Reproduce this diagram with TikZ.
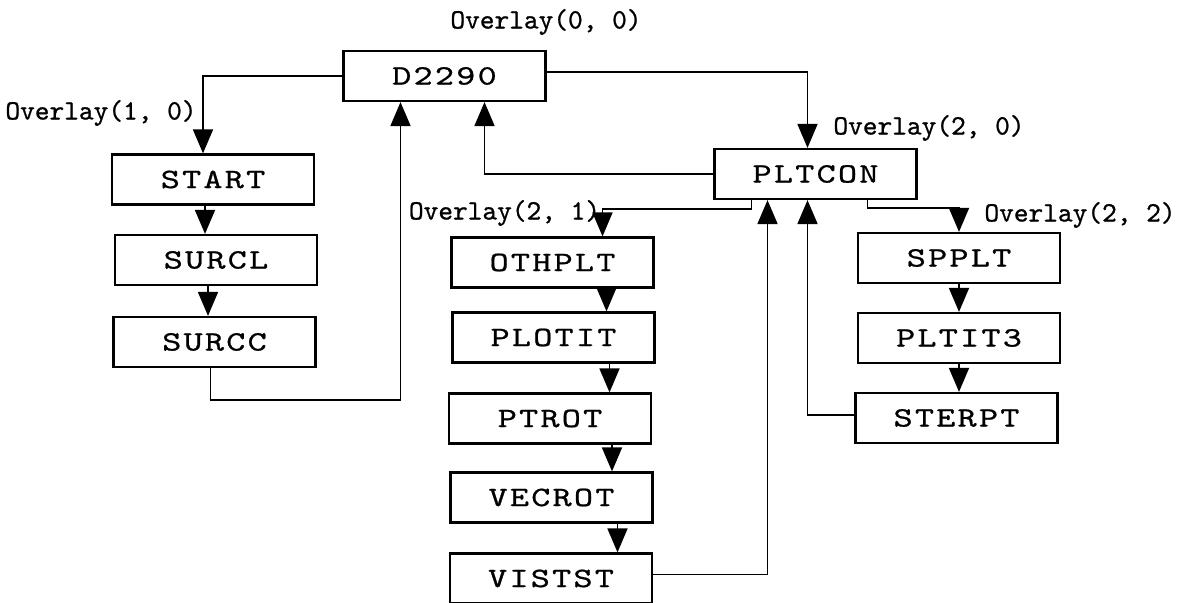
\documentclass[tikz,border=0pt]{standalone}
\usepackage{fontspec}
\usepackage{tikz}
\usetikzlibrary{arrows.meta}

\newfontfamily\modfont{lmmono10-regular}[Extension=.otf, FakeStretch=1.3, LetterSpace=8, FakeBold=0.8]
\newfontfamily\ovlfont{lmmono10-regular}[Extension=.otf, FakeBold=0.8]

\tikzset{
  module/.style={draw, line width=1.1pt, minimum width=101pt, minimum height=25pt,
    inner sep=0pt, font=\modfont\fontsize{14pt}{16pt}\selectfont},
  ovl/.style={inner sep=0pt, font=\ovlfont\fontsize{14pt}{16pt}\selectfont},
  flow/.style={line width=0.9pt, -{Triangle[length=12pt,width=10pt]}},
}

\begin{document}
\begin{tikzpicture}[x=5pt, y=5pt]
    \useasboundingbox (0,0) rectangle (118.3,60.3);

    % Root overlay
    \node[module] (d2290) at (44.45,52.7) {D2290};
    \node[ovl] (ovl00) at (54.6,58.1) {Overlay(0, 0)};

    % Overlay (1,0)
    \node[module] (start) at (21.3,42.35) {START};
    \node[module] (surcl) at (21.6,34.3) {SURCL};
    \node[module] (surcc) at (21.45,26.1) {SURCC};
    \node[ovl] (ovl10) at (10.1,49.0) {Overlay(1, 0)};

    % Overlay (2,0) and its two sub-overlays
    \node[module] (pltcon) at (81.55,42.9) {PLTCON};
    \node[ovl] (ovl20) at (92.9,47.5) {Overlay(2, 0)};

    \node[module] (othplt) at (55.25,34.05) {OTHPLT};
    \node[module] (plotit) at (55.35,26.55) {PLOTIT};
    \node[module] (ptrot)  at (55.0,18.45) {PTROT};
    \node[module] (vecrot) at (55.15,10.55) {VECROT};
    \node[module] (vistst) at (55.1,2.45) {VISTST};
    \node[ovl] (ovl21) at (50.45,39.0) {Overlay(2, 1)};

    \node[module] (spplt)  at (95.9,34.5) {SPPLT};
    \node[module] (pltit3) at (95.9,26.5) {PLTIT3};
    \node[module] (sterpt) at (95.65,18.5) {STERPT};
    \node[ovl] (ovl22) at (108.0,38.8) {Overlay(2, 2)};

    % Calls down from the root
    \draw[flow] (d2290.west) -| ([xshift=-5pt]start.north);
    \draw[flow] ([yshift=2pt]d2290.east) -| ([xshift=-4pt]pltcon.north);

    % Returns to the root
    \draw[flow] ([xshift=-2pt]surcc.south) -- ++(0,-3.2) -| ([xshift=-22pt]d2290.south);
    \draw[flow] (pltcon.west) -| ([xshift=20pt]d2290.south);

    % PLTCON branches
    \draw[flow] ([xshift=-32pt]pltcon.south) -- ++(0,-0.9) -| ([xshift=25pt]othplt.north);
    \draw[flow] ([xshift=26pt]pltcon.south) -- ++(0,-0.8) -| (spplt.north);
    \draw[flow] ([yshift=2pt]vistst.east) -| ([xshift=-24pt]pltcon.south);
    \draw[flow] ([yshift=1.5pt]sterpt.west) -| ([xshift=-4pt]pltcon.south);

    % Chains inside each overlay
    \foreach \a/\b in {start/surcl, surcl/surcc}
        \draw[flow] ([xshift=-4pt]\a.south) -- ([xshift=-4pt]\a.south |- \b.north);
    \foreach \a/\b/\s in {othplt/plotit/27pt, plotit/ptrot/28pt, ptrot/vecrot/31pt, vecrot/vistst/33pt}
        \draw[flow] ([xshift=\s]\a.south) -- ([xshift=\s]\a.south |- \b.north);
    \foreach \a/\b in {spplt/pltit3, pltit3/sterpt}
        \draw[flow] (\a.south) -- (\a.south |- \b.north);
\end{tikzpicture}
\end{document}
